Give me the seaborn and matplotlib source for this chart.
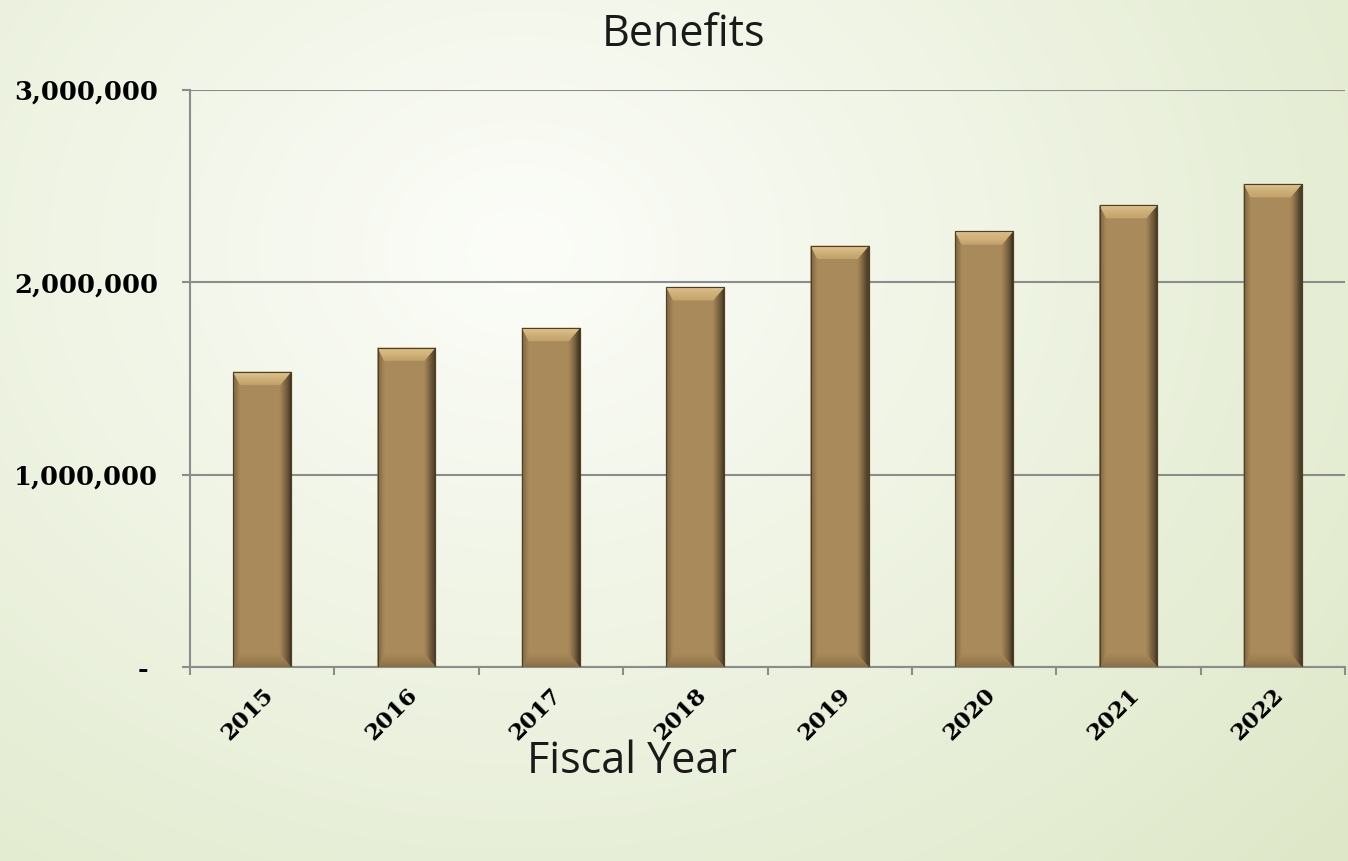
import numpy as np
import matplotlib
matplotlib.use("Agg")
import matplotlib.pyplot as plt
from matplotlib.patches import Polygon
import seaborn as sns
import pandas as pd

# Benefits paid per fiscal year
years = ["2015", "2016", "2017", "2018", "2019", "2020", "2021", "2022"]
benefits = [1535000, 1661000, 1763000, 1975000, 2190000, 2265000, 2402000, 2511000]
y_ticks = [0, 1000000, 2000000, 3000000]
y_tick_labels = ["- ", "1,000,000", "2,000,000", "3,000,000"]

df = pd.DataFrame({"year": years, "benefits": benefits})

sns.set_theme(style="white")
plt.rcParams["font.family"] = ["DejaVu Sans"]
plt.rcParams["ytick.major.pad"] = 17
plt.rcParams["xtick.major.pad"] = 14

W, H, DPI = 1348, 861, 100
fig = plt.figure(figsize=(W / DPI, H / DPI), dpi=DPI)

# soft radial background: pale centre fading to light green at the edges
bg = fig.add_axes([0, 0, 1, 1], zorder=-10)
yy, xx = np.mgrid[0:H, 0:W]
r = np.sqrt(((xx - 520) / 1100.0) ** 2 + ((yy - 250) / 900.0) ** 2)
r = np.clip(r, 0, 1)
c_in = np.array([252, 253, 249]) / 255.0
c_out = np.array([222, 232, 200]) / 255.0
img = c_in[None, None, :] * (1 - r[..., None]) + c_out[None, None, :] * r[..., None]
bg.imshow(img, aspect="auto", extent=[0, 1, 0, 1], origin="upper")
bg.set_axis_off()

ax = fig.add_axes([190 / W, 1 - 667 / H, 1155 / W, 577 / H])
ax.patch.set_alpha(0)

body = "#a98a5a"
sns.barplot(data=df, x="year", y="benefits", color=body, width=0.4,
            saturation=1, ax=ax, zorder=3, edgecolor="#4d3f28", linewidth=0.8)

ax.set_xlim(-0.5, len(years) - 0.5)
ax.set_ylim(0, 3000000)

# bevelled look for each bar, sized from the bar's own geometry
fig.canvas.draw()
ax_w = ax.get_window_extent().width
ax_h = ax.get_window_extent().height
px_x = (ax.get_xlim()[1] - ax.get_xlim()[0]) / ax_w
px_y = (ax.get_ylim()[1] - ax.get_ylim()[0]) / ax_h
dx, dy = 11 * px_x, 13 * px_y


def blend(c1, c2, t):
    a = np.array(matplotlib.colors.to_rgb(c1))
    b = np.array(matplotlib.colors.to_rgb(c2))
    return tuple(a * (1 - t) + b * t)


def strip(pts, col, z):
    ax.add_patch(Polygon(pts, closed=True, facecolor=col, edgecolor=col,
                         linewidth=0.3, zorder=z))


n = 12
for p in list(ax.patches):
    x0 = p.get_x()
    x1 = x0 + p.get_width()
    y0 = p.get_y()
    y1 = y0 + p.get_height()
    lx = dx * 0.6
    for i in range(n):
        t0, t1 = i / n, (i + 1) / n
        # right side: dark at the outer edge
        strip([(x1 - dx * t0, y1 - dy * t0), (x1 - dx * t0, y0 + dy * t0),
               (x1 - dx * t1, y0 + dy * t1), (x1 - dx * t1, y1 - dy * t1)],
              blend("#3a2e1d", body, t0 ** 0.8), 4)
        # left side: slight darkening
        strip([(x0 + lx * t0, y1 - dy * t0), (x0 + lx * t0, y0 + dy * t0),
               (x0 + lx * t1, y0 + dy * t1), (x0 + lx * t1, y1 - dy * t1)],
              blend("#7a6440", body, t0), 4)
        # top chamfer: light highlight
        strip([(x0 + lx * t0, y1 - dy * t0), (x1 - dx * t0, y1 - dy * t0),
               (x1 - dx * t1, y1 - dy * t1), (x0 + lx * t1, y1 - dy * t1)],
              blend("#e0c48e", "#c4a36a", t0), 5)
        # bottom chamfer: subtle shade
        strip([(x0 + lx * t0, y0 + dy * t0), (x1 - dx * t0, y0 + dy * t0),
               (x1 - dx * t1, y0 + dy * t1), (x0 + lx * t1, y0 + dy * t1)],
              blend("#8a7046", body, t0), 5)
    ax.add_patch(Polygon([(x0, y0), (x0, y1), (x1, y1), (x1, y0)], closed=True,
                         fill=False, edgecolor="#4d3f28", linewidth=0.8, zorder=6))

grid_col = "#8c8c8c"
ax.set_yticks(y_ticks, y_tick_labels)
ax.yaxis.grid(True, color=grid_col, linewidth=1.5, zorder=0)
ax.xaxis.grid(False)
ax.set_axisbelow(True)

for s in ["top", "right"]:
    ax.spines[s].set_visible(False)
for s in ["left", "bottom"]:
    ax.spines[s].set_color(grid_col)
    ax.spines[s].set_linewidth(1.5)

# ticks: y outward, x at category boundaries
ax.tick_params(axis="y", direction="out", length=6, width=1.5, color=grid_col,
               left=True, pad=17)
ax.set_xticks(np.arange(len(years)), years)
ax.set_xticks(np.arange(len(years) + 1) - 0.5, minor=True)
ax.tick_params(axis="x", which="major", length=0, pad=12)
ax.tick_params(axis="x", which="minor", direction="out", length=6, width=1.5,
               color=grid_col, bottom=True)

for lab in ax.get_yticklabels():
    lab.set_fontfamily("DejaVu Serif")
    lab.set_fontweight("bold")
    lab.set_fontsize(18.5)
    lab.set_color("black")
for lab in ax.get_xticklabels():
    lab.set_fontfamily("DejaVu Serif")
    lab.set_fontweight("bold")
    lab.set_fontsize(16.5)
    lab.set_color("black")
    lab.set_rotation(45)
    lab.set_ha("right")
    lab.set_rotation_mode("anchor")

ax.set_xlabel("")
ax.set_ylabel("")

fig.text(683 / W, 1 - 46 / H, "Benefits", ha="center", va="baseline",
         fontsize=31, family="Open Sans", color="#1a1a1a")
fig.text(632 / W, 1 - 773 / H, "Fiscal Year", ha="center", va="baseline",
         fontsize=31, family="Open Sans", color="#1a1a1a")

fig.savefig("out.png", dpi=DPI)
